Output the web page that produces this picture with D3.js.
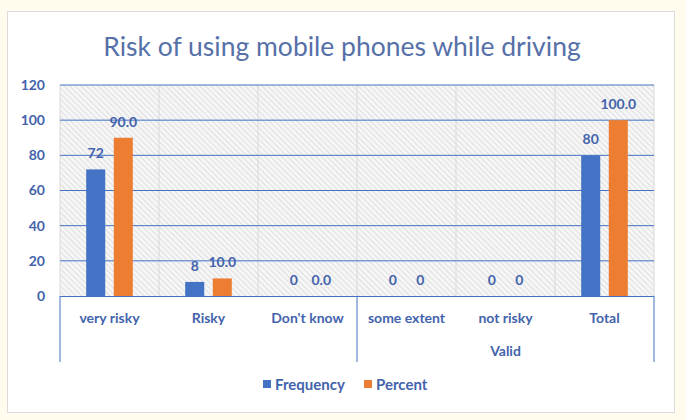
<!DOCTYPE html>
<html><head><meta charset="utf-8">
<script src="https://cdn.jsdelivr.net/npm/d3@7"></script>
<style>html,body{margin:0;padding:0;background:#fffcee;}svg{display:block;}</style>
</head><body>
<script>
const categories = ["very risky","Risky","Don't know","some extent","not risky","Total"];
const frequency = [72, 8, 0, 0, 0, 80];
const percent = [90.0, 10.0, 0.0, 0, 0, 100.0];
const freqLabels = ["72","8","0","0","0","80"];
const pctLabels = ["90.0","10.0","0.0","0","0","100.0"];
const yTicks = [0,20,40,60,80,100,120];
const groupLabel = "Valid";
const groupStart = 3;
const seriesNames = ["Frequency","Percent"];
const title = "Risk of using mobile phones while driving";

const W = 686, H = 420;
const blue = "#4472c4", orange = "#ed7d31", txt = "#4363ac";
const font = "Lato, 'Open Sans', sans-serif";

const svg = d3.select("body").append("svg").attr("width", W).attr("height", H);
const defs = svg.append("defs");
const pat = defs.append("pattern").attr("id","hatch").attr("patternUnits","userSpaceOnUse")
  .attr("width",4).attr("height",4).attr("patternTransform","rotate(-45)");
pat.append("rect").attr("width",4).attr("height",4).attr("fill","#f6f6f6");
pat.append("line").attr("x1",0).attr("y1",0).attr("x2",0).attr("y2",4)
  .attr("stroke","#c9c9c9").attr("stroke-width",1);

svg.append("rect").attr("x",0).attr("y",0).attr("width",W).attr("height",H).attr("fill","#fffcee");
svg.append("rect").attr("x",7.5).attr("y",11.5).attr("width",667).attr("height",401)
  .attr("fill","#fff").attr("stroke","#dcdcdc").attr("stroke-width",1);

const plot = {left:60, right:654, top:85, bottom:296};
const x = d3.scaleBand().domain(categories).range([plot.left, plot.right]).padding(0);
const y = d3.scaleLinear().domain([0,120]).range([plot.bottom, plot.top]);
const xs = d3.scaleBand().domain(seriesNames).range([0, x.bandwidth()]).paddingInner(0.31).paddingOuter(0.95);

svg.append("text").attr("x",342).attr("y",56).attr("text-anchor","middle")
  .attr("font-family",font).attr("font-size",26.5).attr("fill","#5670a8").text(title);

svg.append("rect").attr("x",plot.left).attr("y",plot.top).attr("width",plot.right-plot.left)
  .attr("height",plot.bottom-plot.top).attr("fill","url(#hatch)");

// category separators in plot
svg.append("g").selectAll("line").data(categories.concat(["end"])).join("line")
  .attr("x1",(d,i)=> i<categories.length ? x(d) : plot.right)
  .attr("x2",(d,i)=> i<categories.length ? x(d) : plot.right)
  .attr("y1",plot.top).attr("y2",plot.bottom).attr("stroke","#d9d9d9").attr("stroke-width",1);

// gridlines
svg.append("g").selectAll("line").data(yTicks.filter(t=>t>0)).join("line")
  .attr("x1",plot.left).attr("x2",plot.right).attr("y1",d=>y(d)).attr("y2",d=>y(d))
  .attr("stroke",blue).attr("stroke-width",1);

// y axis labels
const yAxis = d3.axisLeft(y).tickValues(yTicks).tickSize(0).tickPadding(15);
const ya = svg.append("g").attr("transform",`translate(${plot.left},0)`).call(yAxis);
ya.select(".domain").remove();
ya.selectAll("text").attr("font-family",font).attr("font-size",14).attr("font-weight","bold").attr("fill",txt);

// bars
const data = categories.map((c,i)=>({c, vals:[{s:"Frequency",v:frequency[i],l:freqLabels[i]},{s:"Percent",v:percent[i],l:pctLabels[i]}]}));
const color = d3.scaleOrdinal().domain(seriesNames).range([blue, orange]);
const g = svg.append("g").selectAll("g").data(data).join("g").attr("transform",d=>`translate(${x(d.c)},0)`);
g.selectAll("rect").data(d=>d.vals).join("rect")
  .attr("x",d=>xs(d.s)).attr("width",xs.bandwidth())
  .attr("y",d=>y(d.v)).attr("height",d=>plot.bottom-y(d.v)).attr("fill",d=>color(d.s));
g.selectAll("text").data(d=>d.vals).join("text")
  .attr("x",d=>xs(d.s)+xs.bandwidth()/2).attr("y",d=>y(d.v)-11)
  .attr("text-anchor","middle").attr("font-family",font).attr("font-size",14).attr("font-weight","bold")
  .attr("fill",txt).text(d=>d.l);

// x axis structure
const ax = svg.append("g");
ax.append("line").attr("x1",plot.left).attr("x2",plot.right).attr("y1",plot.bottom+0.5).attr("y2",plot.bottom+0.5).attr("stroke",blue);
[x(categories[0]), x(categories[groupStart]), plot.right].forEach(px=>{
  ax.append("line").attr("x1",px).attr("x2",px).attr("y1",plot.bottom).attr("y2",362).attr("stroke",blue);
});
ax.selectAll("text.cat").data(categories).join("text").attr("class","cat")
  .attr("x",d=>x(d)+x.bandwidth()/2).attr("y",323).attr("text-anchor","middle")
  .attr("font-family",font).attr("font-size",14).attr("font-weight","bold").attr("fill",txt).text(d=>d);
ax.append("text").attr("x",(x(categories[groupStart])+plot.right)/2).attr("y",356).attr("text-anchor","middle")
  .attr("font-family",font).attr("font-size",14).attr("font-weight","bold").attr("fill",txt).text(groupLabel);

// legend
const leg = svg.append("g");
const legX = [263, 364];
seriesNames.forEach((s,i)=>{
  leg.append("rect").attr("x",legX[i]).attr("y",380).attr("width",8).attr("height",8).attr("fill",color(s));
  leg.append("text").attr("x",legX[i]+12).attr("y",390).attr("font-family",font).attr("font-size",15)
    .attr("font-weight","bold").attr("fill",txt).text(s);
});
</script>
</body></html>
